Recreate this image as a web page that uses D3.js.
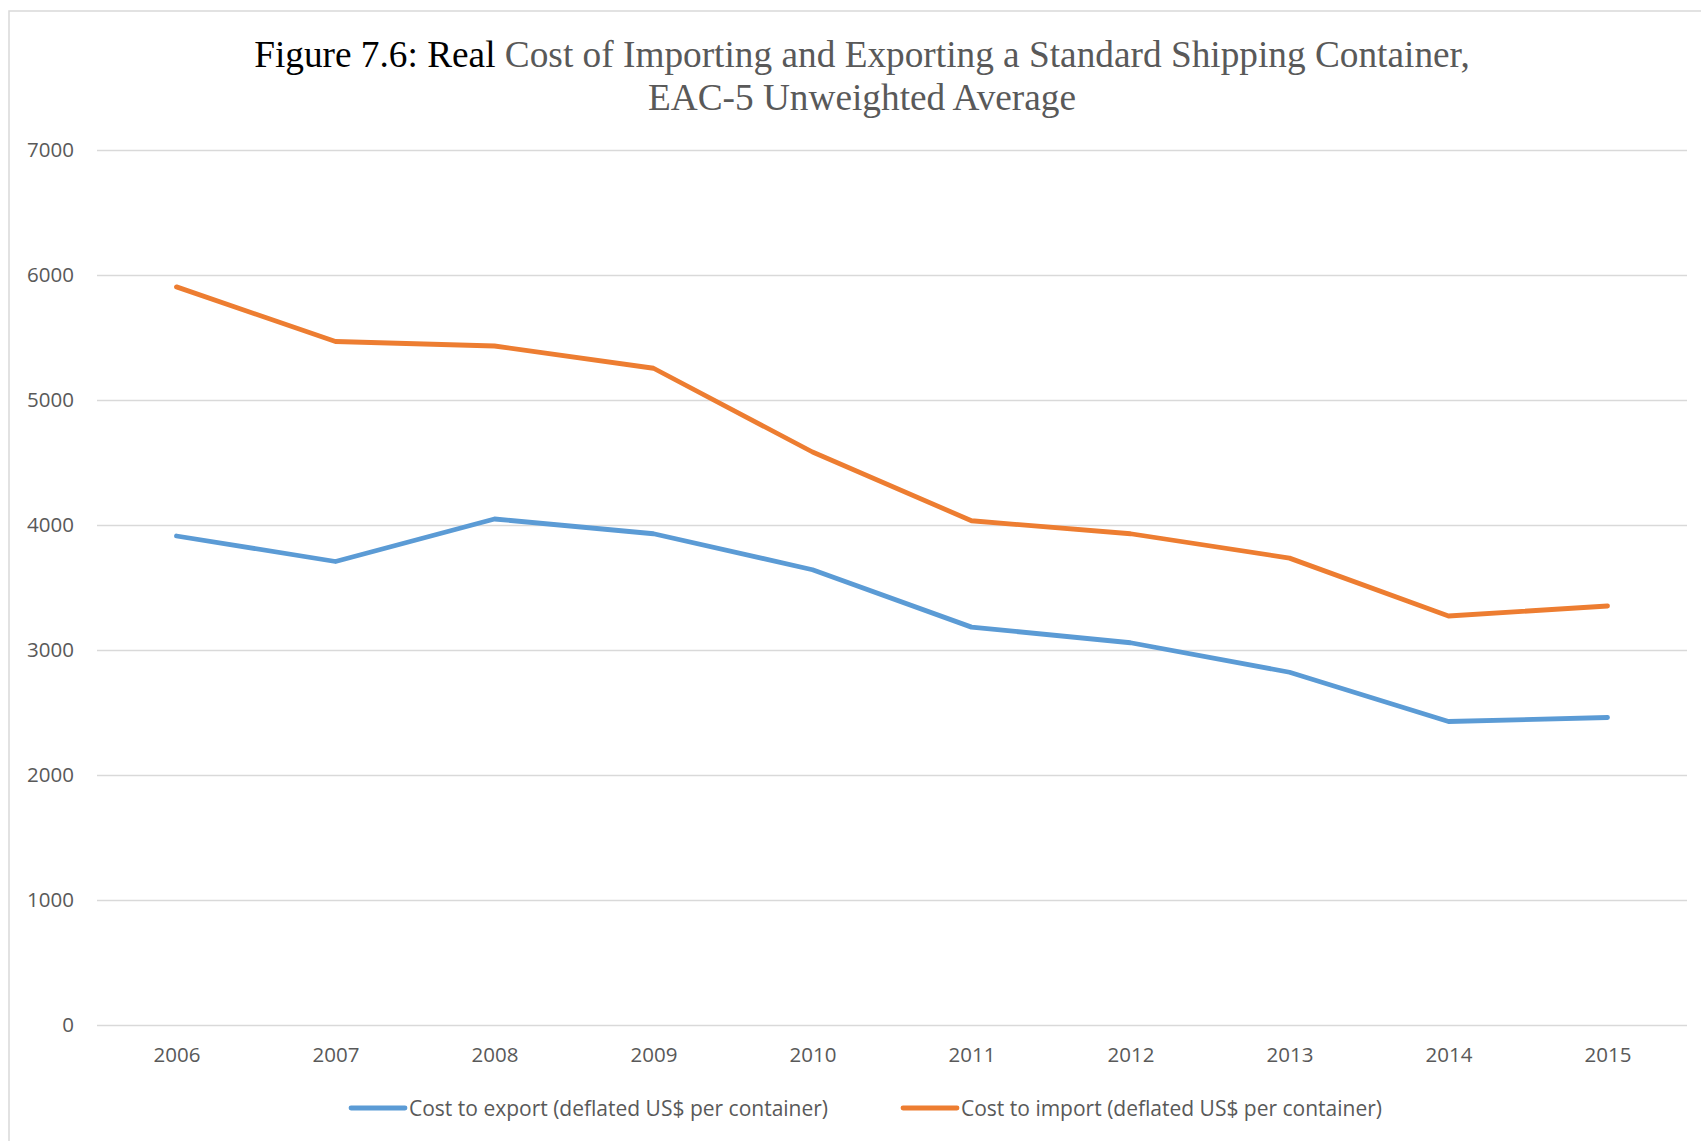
<!DOCTYPE html>
<html>
<head>
<meta charset="utf-8">
<script src="https://cdn.jsdelivr.net/npm/d3@7"></script>
<style>
  body { margin: 0; background: #fff; }
  svg { display: block; }
</style>
</head>
<body>
<div class="chart"></div>
<script>
const years = ["2006", "2007", "2008", "2009", "2010", "2011", "2012", "2013", "2014", "2015"];
const exportCost = [3912, 3708, 4048, 3930, 3642, 3183, 3058, 2822, 2428, 2460];
const importCost = [5905, 5468, 5432, 5254, 4584, 4034, 3930, 3735, 3272, 3352];
const yTicks = [0, 1000, 2000, 3000, 4000, 5000, 6000, 7000];
const seriesNames = [
  "Cost to export (deflated US$ per container)",
  "Cost to import (deflated US$ per container)"
];
const seriesColors = ["#5B9BD5", "#ED7D31"];

const width = 1701, height = 1141;
const margin = { top: 150, right: 14, bottom: 116, left: 97 };

const svg = d3
  .select(".chart")
  .append("svg")
  .attr("width", width)
  .attr("height", height);

// chart frame, runs off the right and bottom edge like the source
svg.append("rect")
  .attr("x", 9)
  .attr("y", 11)
  .attr("width", width)
  .attr("height", height)
  .style("fill", "#fff")
  .style("stroke", "#D9D9D9")
  .style("stroke-width", 1.5);

const x = d3.scalePoint()
  .domain(years)
  .range([margin.left, width - margin.right])
  .padding(0.5);

const y = d3.scaleLinear()
  .domain([0, 7000])
  .range([height - margin.bottom, margin.top]);

const title = svg.append("text")
  .attr("text-anchor", "middle")
  .style("font-family", "'Liberation Serif', 'Times New Roman', serif")
  .style("font-size", "37.3px")
  .style("fill", "#595959");

title.append("tspan")
  .attr("x", 862)
  .attr("y", 67)
  .style("fill", "#000")
  .text("Figure 7.6: Real");
title.append("tspan")
  .text(" Cost of Importing and Exporting a Standard Shipping Container,");
title.append("tspan")
  .attr("x", 862)
  .attr("y", 110)
  .text("EAC-5 Unweighted Average");

const yAxis = svg.append("g")
  .attr("transform", `translate(${margin.left},0)`)
  .call(d3.axisLeft(y)
    .tickValues(yTicks)
    .tickSize(-(width - margin.left - margin.right))
    .tickPadding(23)
    .tickFormat(d3.format("d")));

yAxis.select(".domain").remove();
yAxis.selectAll(".tick line")
  .style("stroke", "#D9D9D9")
  .style("stroke-width", 1.4);
yAxis.selectAll(".tick text")
  .style("font-family", "'Open Sans', sans-serif")
  .style("font-size", "20.5px")
  .style("fill", "#595959");

const xAxis = svg.append("g")
  .attr("transform", `translate(0,${height - margin.bottom})`)
  .call(d3.axisBottom(x).tickSize(0).tickPadding(22));

xAxis.select(".domain").remove();
xAxis.selectAll(".tick text")
  .style("font-family", "'Open Sans', sans-serif")
  .style("font-size", "20.5px")
  .style("fill", "#595959");

const series = [exportCost, importCost].map((vals, i) => ({
  name: seriesNames[i],
  color: seriesColors[i],
  values: vals.map((v, j) => ({ year: years[j], val: v }))
}));

const line = d3.line()
  .x(d => x(d.year))
  .y(d => y(d.val));

svg.selectAll(".series")
  .data(series)
  .enter()
  .append("path")
  .attr("class", "series")
  .attr("d", d => line(d.values))
  .style("fill", "none")
  .style("stroke", d => d.color)
  .style("stroke-width", 4.8)
  .style("stroke-linecap", "round")
  .style("stroke-linejoin", "round");

const legendX = [351, 903];

const legend = svg.selectAll(".legend")
  .data(series)
  .enter()
  .append("g")
  .attr("class", "legend")
  .attr("transform", (d, i) => `translate(${legendX[i]},1108)`);

legend.append("line")
  .attr("x1", 0)
  .attr("x2", 54)
  .style("stroke", d => d.color)
  .style("stroke-width", 4.8)
  .style("stroke-linecap", "round");

legend.append("text")
  .attr("x", 58)
  .attr("dy", "0.36em")
  .style("font-family", "'Open Sans', sans-serif")
  .style("font-size", "21px")
  .style("fill", "#595959")
  .text(d => d.name);
</script>
</body>
</html>
